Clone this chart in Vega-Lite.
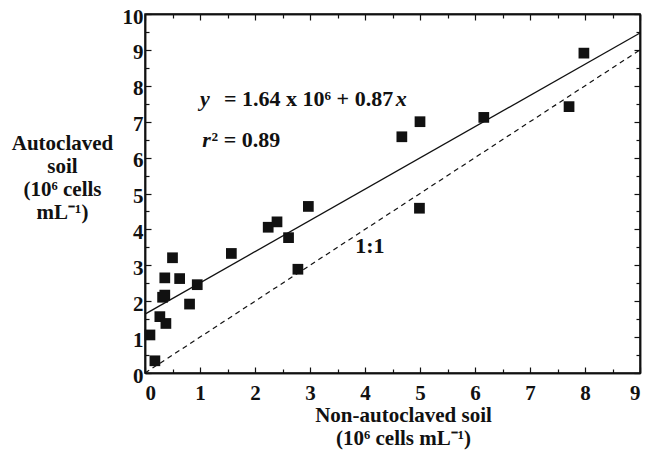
{
  "$schema": "https://vega.github.io/schema/vega-lite/v6.json",
  "width": 495,
  "height": 359,
  "autosize": "none",
  "padding": {"left": 145, "top": 14, "right": 7, "bottom": 84},
  "background": "white",
  "config": {
    "view": {"stroke": "#111", "strokeWidth": 1.5},
    "font": "Liberation Serif",
    "axis": {
      "grid": false,
      "domainColor": "#111",
      "domainWidth": 1.5,
      "tickColor": "#111",
      "tickWidth": 1.2,
      "labelFont": "Liberation Serif",
      "labelFontWeight": "bold",
      "labelFontSize": 21,
      "labelColor": "#111",
      "titleFont": "Liberation Serif",
      "titleFontWeight": "bold",
      "titleFontSize": 21,
      "titleColor": "#111"
    }
  },
  "datasets": {
    "points": [
      {"nonauto": 0.09, "auto": 1.06},
      {"nonauto": 0.18, "auto": 0.34},
      {"nonauto": 0.27, "auto": 1.57},
      {"nonauto": 0.38, "auto": 1.38},
      {"nonauto": 0.32, "auto": 2.11},
      {"nonauto": 0.36, "auto": 2.17},
      {"nonauto": 0.36, "auto": 2.65},
      {"nonauto": 0.50, "auto": 3.21},
      {"nonauto": 0.63, "auto": 2.63},
      {"nonauto": 0.81, "auto": 1.92},
      {"nonauto": 0.95, "auto": 2.46},
      {"nonauto": 1.57, "auto": 3.33},
      {"nonauto": 2.24, "auto": 4.06},
      {"nonauto": 2.40, "auto": 4.21},
      {"nonauto": 2.61, "auto": 3.77},
      {"nonauto": 2.78, "auto": 2.89},
      {"nonauto": 2.97, "auto": 4.64},
      {"nonauto": 4.67, "auto": 6.58},
      {"nonauto": 5.00, "auto": 7.00},
      {"nonauto": 4.99, "auto": 4.59},
      {"nonauto": 6.16, "auto": 7.12},
      {"nonauto": 7.71, "auto": 7.42},
      {"nonauto": 7.98, "auto": 8.91}
    ],
    "fit": [
      {"nonauto": 0, "auto": 1.64},
      {"nonauto": 9, "auto": 9.47}
    ],
    "oneone": [
      {"nonauto": 0, "auto": 0},
      {"nonauto": 9, "auto": 9}
    ]
  },
  "resolve": {"axis": {"x": "independent", "y": "independent"}},
  "layer": [
    {
      "data": {"name": "points"},
      "mark": {"type": "point", "shape": "square", "filled": true, "size": 115, "color": "#111", "opacity": 1},
      "encoding": {
        "x": {"field": "nonauto", "type": "quantitative",
          "scale": {"domain": [0, 9], "nice": false},
          "axis": {"orient": "bottom", "values": [0,1,2,3,4,5,6,7,8,9], "tickSize": -6, "labelPadding": 15,
            "title": ["Non-autoclaved soil", "(10⁶ cells mL⁻¹)"], "titleX": 258, "titleY": 48,
            "titleBaseline": "alphabetic", "titleLineHeight": 23, "titleAlign": "center"}},
        "y": {"field": "auto", "type": "quantitative",
          "scale": {"domain": [0, 10], "nice": false},
          "axis": {"orient": "left", "values": [0,1,2,3,4,5,6,7,8,9,10], "tickSize": -6, "labelPadding": 8, "labelOffset": 3,
            "title": ["Autoclaved", "soil", "(10⁶ cells", "mL⁻¹)"], "titleAngle": 0, "titleAlign": "center",
            "titleBaseline": "alphabetic", "titleX": -83, "titleY": 135, "titleLineHeight": 23}}
      }
    },
    {
      "data": {"name": "fit"},
      "mark": {"type": "line", "color": "#111", "strokeWidth": 1.3},
      "encoding": {
        "x": {"field": "nonauto", "type": "quantitative",
          "axis": {"orient": "top", "values": [0,1,2,3,4,5,6,7,8,9], "tickSize": -6, "labels": false, "title": null}},
        "y": {"field": "auto", "type": "quantitative",
          "axis": {"orient": "right", "values": [0,1,2,3,4,5,6,7,8,9,10], "tickSize": -6, "labels": false, "title": null}}
      }
    },
    {
      "data": {"name": "oneone"},
      "mark": {"type": "line", "color": "#111", "strokeWidth": 1.2, "strokeDash": [5, 4]},
      "encoding": {
        "x": {"field": "nonauto", "type": "quantitative",
          "axis": {"orient": "bottom", "values": [0.5,1.5,2.5,3.5,4.5,5.5,6.5,7.5,8.5], "tickSize": -4, "labels": false, "title": null}},
        "y": {"field": "auto", "type": "quantitative",
          "axis": {"orient": "left", "values": [0.5,1.5,2.5,3.5,4.5,5.5,6.5,7.5,8.5,9.5], "tickSize": -4, "labels": false, "title": null}}
      }
    },
    {
      "data": {"values": [{"nonauto": 4.09, "auto": 3.34, "label": "1:1"}]},
      "mark": {"type": "text", "font": "Liberation Serif", "fontWeight": "bold", "fontSize": 22, "color": "#111", "align": "center", "baseline": "alphabetic"},
      "encoding": {
        "x": {"field": "nonauto", "type": "quantitative",
          "axis": {"orient": "top", "values": [0.5,1.5,2.5,3.5,4.5,5.5,6.5,7.5,8.5], "tickSize": -4, "labels": false, "title": null}},
        "y": {"field": "auto", "type": "quantitative",
          "axis": {"orient": "right", "values": [0.5,1.5,2.5,3.5,4.5,5.5,6.5,7.5,8.5,9.5], "tickSize": -4, "labels": false, "title": null}},
        "text": {"field": "label"}
      }
    },
    {
      "data": {"values": [{"nonauto": 1.0, "auto": 7.44, "label": "y"}, {"nonauto": 1.04, "auto": 6.30, "label": "r"}, {"nonauto": 4.56, "auto": 7.44, "label": "x"}]},
      "mark": {"type": "text", "font": "Liberation Serif", "fontWeight": "bold", "fontStyle": "italic", "fontSize": 22, "color": "#111", "align": "left", "baseline": "alphabetic"},
      "encoding": {
        "x": {"field": "nonauto", "type": "quantitative", "axis": null},
        "y": {"field": "auto", "type": "quantitative", "axis": null},
        "text": {"field": "label"}
      }
    },
    {
      "data": {"values": [{"nonauto": 1.436, "auto": 7.44, "label": "= 1.64 x 10⁶ + 0.87"}, {"nonauto": 1.21, "auto": 6.30, "label": "² = 0.89"}]},
      "mark": {"type": "text", "font": "Liberation Serif", "fontWeight": "bold", "fontSize": 22, "color": "#111", "align": "left", "baseline": "alphabetic"},
      "encoding": {
        "x": {"field": "nonauto", "type": "quantitative", "axis": null},
        "y": {"field": "auto", "type": "quantitative", "axis": null},
        "text": {"field": "label"}
      }
    }
  ]
}
